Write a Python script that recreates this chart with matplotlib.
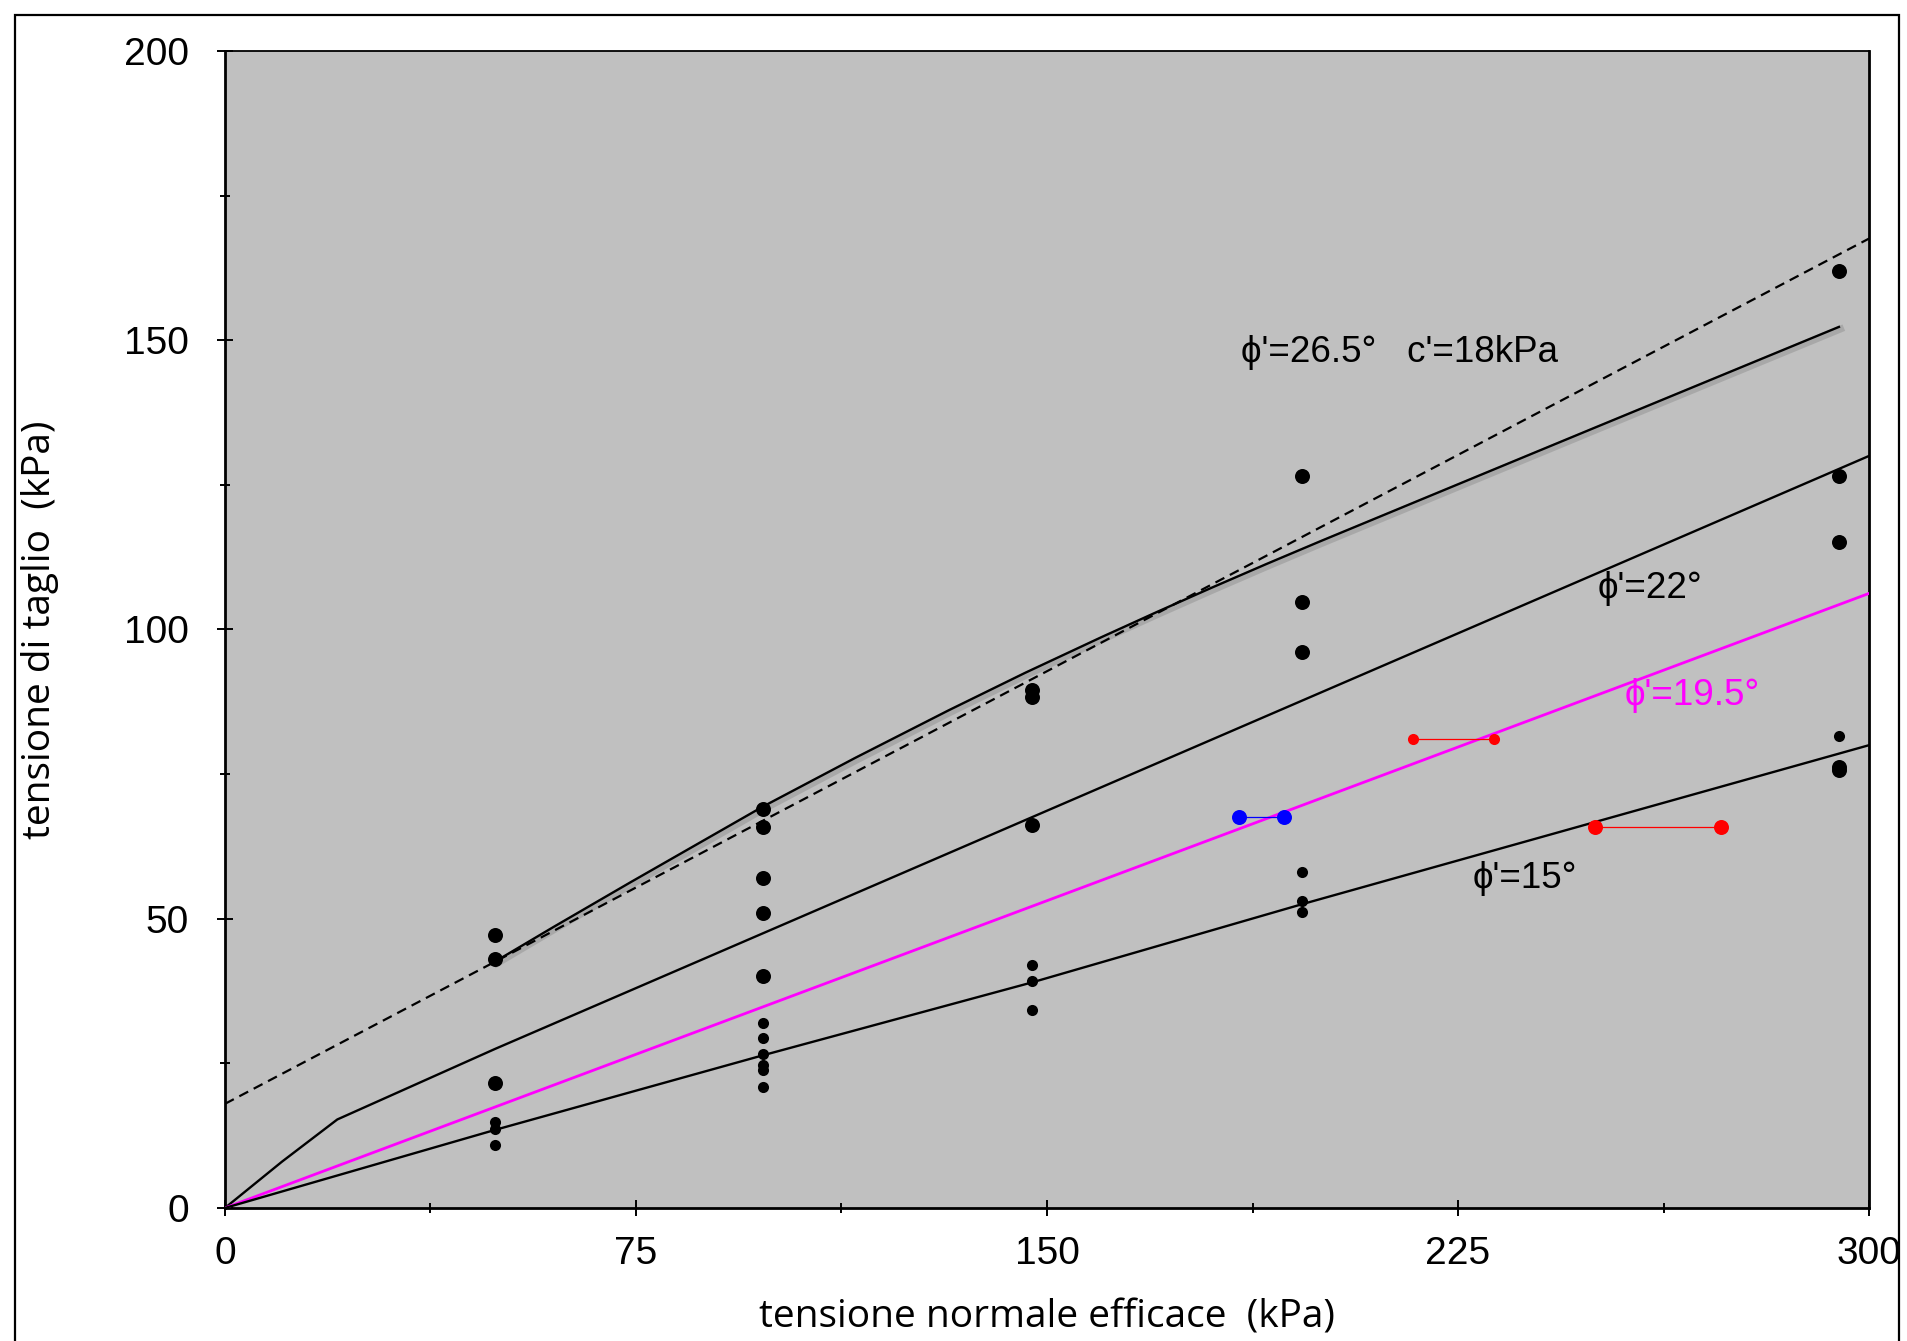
import numpy as np
import matplotlib
matplotlib.use('Agg')
import matplotlib.pyplot as plt
import matplotlib.patheffects as pe
from matplotlib.patches import Rectangle

# tick / annotation font and axis-label font
NARROW = ['Liberation Sans Narrow', 'Liberation Sans', 'DejaVu Sans']
LABEL = ['Open Sans', 'DejaVu Sans']

# shear test results: normal effective stress (kPa) -> shear stress (kPa)
sigma_big = [49.3, 49.3, 49.3,
             98.2, 98.2, 98.2, 98.2, 98.2,
             147.3, 147.3, 147.3,
             196.5, 196.5, 196.5,
             294.5, 294.5, 294.5, 294.5, 294.5]
tau_big = [47.1, 43.1, 21.6,
           69.0, 65.8, 57.0, 51.0, 40.1,
           89.6, 88.4, 66.2,
           126.6, 104.7, 96.1,
           161.9, 126.5, 115.2, 76.3, 75.7]

sigma_small = [49.3, 49.3, 49.3,
               98.2, 98.2, 98.2, 98.2, 98.2, 98.2,
               147.3, 147.3, 147.3,
               196.5, 196.5, 196.5,
               294.5]
tau_small = [14.8, 13.6, 10.8,
             31.9, 29.3, 26.6, 24.8, 23.9, 20.9,
             42.0, 39.3, 34.3,
             58.0, 53.0, 51.1,
             81.6]

# paired points joined by a thin segment
blue_sigma = [185.0, 193.3]
blue_tau = [67.5, 67.5]
red_up_sigma = [216.8, 231.6]
red_up_tau = [81.0, 81.0]
red_low_sigma = [250.0, 273.0]
red_low_tau = [65.9, 65.9]

# failure envelopes
peak_sigma = [49.3, 60, 74, 86, 98, 115, 132, 146, 160, 170, 180, 190,
              200, 225, 250, 294.5]
peak_tau = [42.6, 48.6, 56.3, 62.8, 69.3, 77.8, 86.0, 92.5, 98.7, 103.0,
            107.2, 111.3, 115.3, 125.1, 134.9, 152.3]

env22_sigma = [0, 10.4, 20.5, 49.3, 300]
env22_tau = [0, 8.0, 15.3, 27.5, 130.0]

env15_sigma = [0, 49.3, 98.2, 147.3, 196.5, 300]
env15_tau = [0, 13.5, 26.4, 39.0, 52.5, 80.0]

phi_mc, c_mc = 26.5, 18.0   # dashed Mohr-Coulomb line
phi_mag = 19.5              # magenta line
x_line = np.array([0, 300])

fig = plt.figure(figsize=(19.08, 13.41), dpi=100)
ax = fig.add_axes([0.1179, 0.0992, 0.8617, 0.8628])
ax.set_facecolor('#c0c0c0')

ax.plot(x_line, c_mc + np.tan(np.radians(phi_mc)) * x_line, color='black',
        lw=1.6, ls=(0, (4.5, 2.8)), zorder=3)
ax.plot(peak_sigma, peak_tau, color='black', lw=1.7, zorder=3,
        solid_joinstyle='round',
        path_effects=[pe.SimpleLineShadow(offset=(1.2, -1.5), alpha=0.12,
                                          shadow_color='k', linewidth=5),
                      pe.Normal()])
ax.plot(env22_sigma, env22_tau, color='black', lw=1.7, zorder=3)
ax.plot(x_line, np.tan(np.radians(phi_mag)) * x_line, color='#ff00ff',
        lw=2.0, zorder=3)
ax.plot(env15_sigma, env15_tau, color='black', lw=1.7, zorder=3)

ax.plot(sigma_big, tau_big, 'o', color='black', ms=10.8, mec='none', zorder=4)
ax.plot(sigma_small, tau_small, 'o', color='black', ms=8, mec='none',
        zorder=4)

ax.plot(blue_sigma, blue_tau, '-o', color='#0000ff', lw=0.9, ms=10.8,
        mec='none', zorder=5)
ax.plot(red_up_sigma, red_up_tau, '-o', color='#ff0000', lw=0.9, ms=8,
        mec='none', zorder=5)
ax.plot(red_low_sigma, red_low_tau, '-o', color='#ff0000', lw=0.9, ms=10.8,
        mec='none', zorder=5)

ax.text(185.4, 147.8, "ϕ'=26.5°   c'=18kPa", family=NARROW, fontsize=26.5,
        ha='left', va='center')
ax.text(250.5, 107.0, "ϕ'=22°", family=NARROW, fontsize=26.5,
        ha='left', va='center')
ax.text(255.4, 88.5, "ϕ'=19.5°", family=NARROW, fontsize=26.5,
        color='#ff00ff', ha='left', va='center')
ax.text(227.6, 57.0, "ϕ'=15°", family=NARROW, fontsize=26.5,
        ha='left', va='center')

ax.set_xlim(0, 300)
ax.set_ylim(0, 200)
ax.set_xticks([0, 75, 150, 225, 300])
ax.set_xticks([37.5, 112.5, 187.5, 262.5], minor=True)
ax.set_yticks([0, 50, 100, 150, 200])
ax.set_yticks([25, 75, 125, 175], minor=True)
ax.tick_params(which='major', direction='inout', length=12, width=1.4,
               labelsize=28)
ax.tick_params(which='minor', direction='inout', length=7, width=1.4)
ax.tick_params(axis='y', which='major', pad=20)
ax.tick_params(axis='x', which='major', pad=14)
for lab in ax.get_xticklabels() + ax.get_yticklabels():
    lab.set_family(NARROW)

for side in ['left', 'bottom', 'right']:
    ax.spines[side].set_linewidth(2.0)
ax.spines['top'].set_linewidth(1.3)

ax.set_xlabel('tensione normale efficace  (kPa)', family=LABEL, fontsize=28,
              va='center')
ax.set_ylabel('tensione di taglio  (kPa)', family=LABEL, fontsize=28,
              va='center')
ax.xaxis.set_label_coords(0.5, -0.095)
ax.yaxis.set_label_coords(-0.1125, 0.5)

# outer frame, open at the bottom edge of the figure
fig.patches.append(Rectangle((0.0078, -0.05), 0.9877, 1.039,
                             transform=fig.transFigure, fill=False,
                             edgecolor='black', lw=1.6, clip_on=False))

fig.savefig('out.png', dpi=100)
plt.close('all')
